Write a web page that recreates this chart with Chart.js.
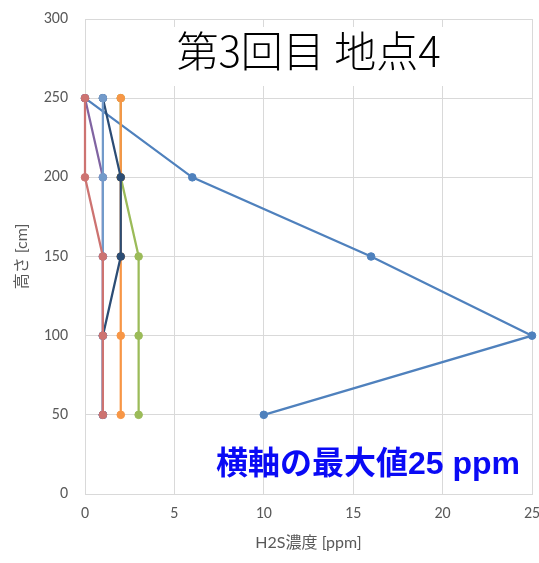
<!DOCTYPE html>
<html>
<head>
<meta charset="utf-8">
<script src="https://cdn.jsdelivr.net/npm/chart.js@4/dist/chart.umd.min.js"></script>
<style>
  html, body { margin: 0; padding: 0; background: #fff; }
  #wrap { width: 539px; height: 563px; position: relative; }
</style>
</head>
<body>
<div id="wrap"><canvas id="c" width="539" height="563"></canvas></div>
<script>
// Measurement heights [cm]
const heights = [50, 100, 150, 200, 250];

// H2S concentration [ppm] at each height, one array per series
const concBlue      = [10, 25, 16, 6, 0];
const concGreen     = [3, 3, 3, 2, 2];
const concPurple    = [1, 1, 1, 1, 0];
const concOrange    = [2, 2, 2, 2, 2];
const concNavy      = [1, 1, 2, 2, 1];
const concLightBlue = [1, 1, 1, 1, 1];
const concRed       = [1, 1, 1, 0, 0];

// Axis ticks
const xTicks = [0, 5, 10, 15, 20, 25];
const yTicks = [0, 50, 100, 150, 200, 250, 300];

const chartTitle = '第3回目 地点4';
const noteText = '横軸の最大値25 ppm';
const xTitle = 'H2S濃度 [ppm]';
const yTitle = '高さ [cm]';

// Series listed bottom layer first
const seriesList = [
  { values: concBlue,      color: '#4F81BD' },
  { values: concGreen,     color: '#9BBB59' },
  { values: concPurple,    color: '#8064A2' },
  { values: concOrange,    color: '#F79646' },
  { values: concNavy,      color: '#2C4D75' },
  { values: concLightBlue, color: '#729ACA' },
  { values: concRed,       color: '#CD7371' }
];

const datasets = seriesList.map((s, i) => ({
  data: s.values.map((v, k) => ({ x: v, y: heights[k] })),
  borderColor: s.color,
  backgroundColor: s.color,
  pointBackgroundColor: s.color,
  pointBorderColor: s.color,
  borderWidth: 2.25,
  pointRadius: 3.8,
  pointBorderWidth: 1,
  showLine: true,
  tension: 0,
  clip: false,
  order: seriesList.length - i
}));

const tickFont = { family: 'Carlito, Lato, "Noto Sans", sans-serif', size: 16 };
const titleFont = { family: 'Lato, "Noto Sans CJK JP", sans-serif', size: 16 };

// Title box over the grid, and the blue note over the plot
const overlayPlugin = {
  id: 'overlay',
  beforeDatasetsDraw(chart) {
    const { ctx, chartArea } = chart;
    const cx = (chartArea.left + chartArea.right) / 2;
    ctx.save();
    ctx.fillStyle = '#ffffff';
    ctx.fillRect(cx - 146, chartArea.top + 8, 292, 59);
    ctx.fillStyle = '#000000';
    ctx.font = '300 42px "Noto Sans CJK JP", sans-serif';
    ctx.textAlign = 'center';
    ctx.textBaseline = 'middle';
    ctx.fillText(chartTitle, cx, chartArea.top + 32);
    ctx.restore();
  },
  afterDatasetsDraw(chart) {
    const { ctx, chartArea } = chart;
    ctx.save();
    ctx.fillStyle = '#0A0AF5';
    ctx.font = 'bold 32px "Liberation Sans", "Noto Sans CJK JP", sans-serif';
    ctx.textAlign = 'right';
    ctx.textBaseline = 'middle';
    ctx.fillText(noteText, chartArea.right - 12, chartArea.bottom - 29);
    ctx.restore();
  }
};

new Chart(document.getElementById('c'), {
  type: 'scatter',
  data: { datasets },
  plugins: [overlayPlugin],
  options: {
    responsive: false,
    animation: false,
    devicePixelRatio: 1,
    layout: { padding: { top: 19, right: 7, left: 0, bottom: 0 } },
    plugins: { legend: { display: false }, tooltip: { enabled: false }, title: { display: false } },
    scales: {
      x: {
        type: 'linear',
        min: 0, max: 25,
        afterBuildTicks(scale) { scale.ticks = xTicks.map(v => ({ value: v })); },
        afterFit(scale) { scale.height = 69; scale.paddingLeft = 0; scale.paddingRight = 0; },
        ticks: { color: '#595959', font: tickFont, padding: 10, maxRotation: 0 },
        grid: { color: '#D9D9D9', lineWidth: 1, drawTicks: false },
        border: { color: '#D9D9D9', width: 1 },
        title: { display: true, text: xTitle, color: '#595959', font: titleFont, padding: { top: 0, bottom: 11 } }
      },
      y: {
        type: 'linear',
        min: 0, max: 300,
        afterBuildTicks(scale) { scale.ticks = yTicks.map(v => ({ value: v })); },
        afterFit(scale) { scale.width = 85; scale.paddingTop = 0; scale.paddingBottom = 0; },
        ticks: { color: '#595959', font: tickFont, padding: 17 },
        grid: { color: '#D9D9D9', lineWidth: 1, drawTicks: false },
        border: { color: '#D9D9D9', width: 1 },
        title: { display: true, text: yTitle, color: '#595959', font: titleFont, padding: { top: 12, bottom: 0 } }
      }
    }
  }
});
</script>
</body>
</html>
